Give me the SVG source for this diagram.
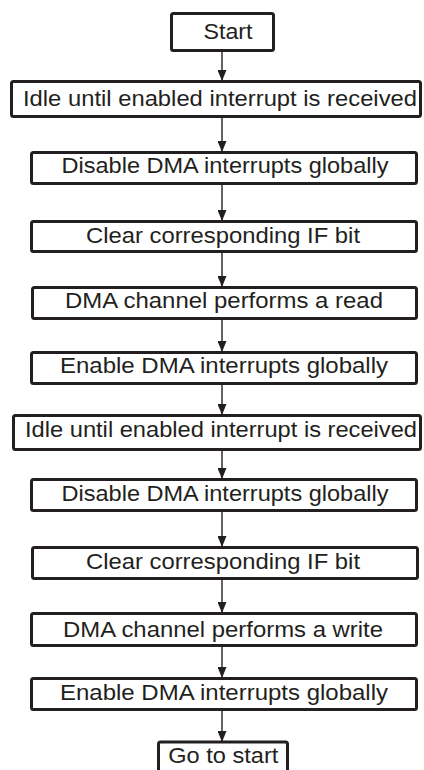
<svg xmlns="http://www.w3.org/2000/svg" width="424" height="770" viewBox="0 0 424 770">
<style>
.box{fill:#fff;stroke:#231f20;stroke-width:3}
.lbl{font-family:"Liberation Sans",Arial,Helvetica,sans-serif;font-size:22.5px;fill:#231f20;text-anchor:middle}
.conn{stroke:#231f20;stroke-width:1.4;fill:none;marker-end:url(#ah)}
</style>
<defs>
<marker id="ah" viewBox="0 0 11 9" refX="11" refY="4.5" markerWidth="11" markerHeight="9" markerUnits="userSpaceOnUse" orient="auto">
<path d="M0,0 L11,4.5 L0,9 z" fill="#231f20"/>
</marker>
</defs>
<rect width="424" height="770" fill="#fff"/>
<g id="connectors">
<line class="conn" x1="222" y1="52" x2="222" y2="81"/>
<line class="conn" x1="222" y1="118" x2="222" y2="152"/>
<line class="conn" x1="222" y1="185" x2="222" y2="221"/>
<line class="conn" x1="222" y1="253" x2="222" y2="287"/>
<line class="conn" x1="222" y1="320" x2="222" y2="352"/>
<line class="conn" x1="222" y1="385" x2="222" y2="415"/>
<line class="conn" x1="222" y1="451" x2="222" y2="479"/>
<line class="conn" x1="222" y1="512" x2="222" y2="547"/>
<line class="conn" x1="222" y1="580" x2="222" y2="613"/>
<line class="conn" x1="222" y1="647" x2="222" y2="678"/>
<line class="conn" x1="222" y1="711" x2="222" y2="742"/>
</g>
<g id="n1"><rect class="box" x="171.5" y="13.5" width="102" height="37" rx="2"/><text class="lbl" x="228" y="39.3" textLength="49" lengthAdjust="spacingAndGlyphs">Start</text></g>
<g id="n2"><rect class="box" x="11.5" y="81.5" width="409" height="35" rx="2"/><text class="lbl" x="220" y="106" textLength="394" lengthAdjust="spacingAndGlyphs">Idle until enabled interrupt is received</text></g>
<g id="n3"><rect class="box" x="31.5" y="152.5" width="385" height="31" rx="2"/><text class="lbl" x="225" y="172.7" textLength="327" lengthAdjust="spacingAndGlyphs">Disable DMA interrupts globally</text></g>
<g id="n4"><rect class="box" x="31.5" y="221.5" width="385" height="30" rx="2"/><text class="lbl" x="223" y="243.3" textLength="274" lengthAdjust="spacingAndGlyphs">Clear corresponding IF bit</text></g>
<g id="n5"><rect class="box" x="32.5" y="287.5" width="384" height="31" rx="2"/><text class="lbl" x="224" y="308.3" textLength="318" lengthAdjust="spacingAndGlyphs">DMA channel performs a read</text></g>
<g id="n6"><rect class="box" x="31.5" y="352.5" width="385" height="31" rx="2"/><text class="lbl" x="224" y="373.3" textLength="328" lengthAdjust="spacingAndGlyphs">Enable DMA interrupts globally</text></g>
<g id="n7"><rect class="box" x="13.5" y="415.5" width="407" height="34" rx="2"/><text class="lbl" x="221" y="437.3" textLength="392" lengthAdjust="spacingAndGlyphs">Idle until enabled interrupt is received</text></g>
<g id="n8"><rect class="box" x="31.5" y="479.5" width="385" height="31" rx="2"/><text class="lbl" x="225" y="501" textLength="327" lengthAdjust="spacingAndGlyphs">Disable DMA interrupts globally</text></g>
<g id="n9"><rect class="box" x="32.5" y="547.5" width="385" height="31" rx="2"/><text class="lbl" x="223" y="569" textLength="274" lengthAdjust="spacingAndGlyphs">Clear corresponding IF bit</text></g>
<g id="n10"><rect class="box" x="31.5" y="613.5" width="385" height="32" rx="2"/><text class="lbl" x="223" y="636.7" textLength="320" lengthAdjust="spacingAndGlyphs">DMA channel performs a write</text></g>
<g id="n11"><rect class="box" x="31.5" y="678.5" width="385" height="31" rx="2"/><text class="lbl" x="224" y="700" textLength="328" lengthAdjust="spacingAndGlyphs">Enable DMA interrupts globally</text></g>
<g id="n12"><rect class="box" x="158.5" y="742" width="129" height="40" rx="2"/><text class="lbl" x="223.3" y="762.7" textLength="110" lengthAdjust="spacingAndGlyphs">Go to start</text></g>
</svg>
